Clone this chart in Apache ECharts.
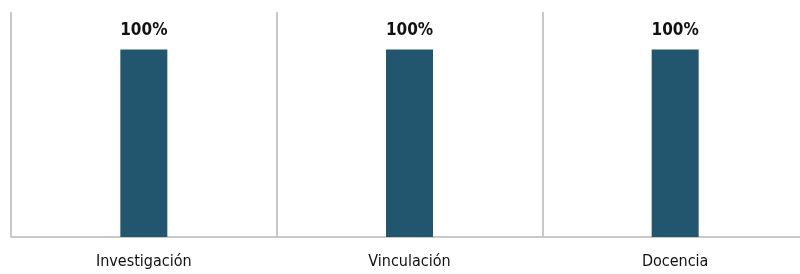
<!DOCTYPE html>
<html>
<head>
<meta charset="utf-8">
<script src="https://cdn.jsdelivr.net/npm/echarts@6/dist/echarts.min.js"></script>
<style>
  html, body { margin: 0; padding: 0; background: #fff; }
  #chart { width: 800px; height: 274px; }
</style>
</head>
<body>
<div id="chart"></div>
<script>
// categorías y valores (%)
const categories = ['Investigación', 'Vinculación', 'Docencia']
const values = [100, 100, 100]

const fontFamily = '"Liberation Sans Narrow", "DejaVu Sans Condensed", sans-serif'

const chart = echarts.init(document.getElementById('chart'))

const option = {
  animation: false,
  grid: {
    left: 11,
    width: 797,
    top: 12,
    height: 225,
    outerBoundsMode: 'none'
  },
  xAxis: {
    type: 'category',
    data: categories,
    axisLine: { lineStyle: { color: '#c9c9c9', width: 2 } },
    axisTick: { show: false },
    splitLine: { show: true, lineStyle: { color: '#c9c9c9', width: 2 } },
    axisLabel: {
      color: '#111',
      fontSize: 16,
      fontFamily: fontFamily,
      margin: 17
    }
  },
  yAxis: {
    type: 'value',
    min: 0,
    max: 120,
    show: false
  },
  series: [
    {
      type: 'bar',
      data: values,
      barWidth: 47,
      itemStyle: { color: '#22566f' },
      label: {
        show: true,
        position: 'top',
        distance: 10,
        formatter: '{c}%',
        color: '#111',
        fontSize: 17,
        fontWeight: 'bold',
        fontFamily: fontFamily
      }
    }
  ]
}

chart.setOption(option)
</script>
</body>
</html>
